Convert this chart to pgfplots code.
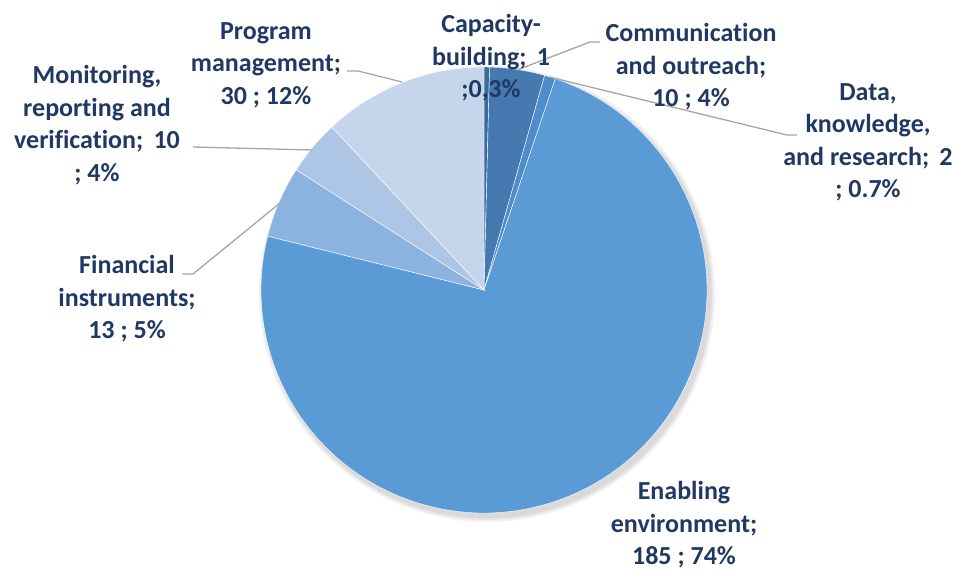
\documentclass[border=0pt]{standalone}
\usepackage{pgfplots}
\pgfplotsset{compat=1.18}
\usepackage{pgfplotstable}
\usepackage{fontspec}
\setmainfont{Carlito}[Ligatures={NoCommon}]

\definecolor{cCap}{HTML}{3A6A9E}
\definecolor{cCom}{HTML}{4679B0}
\definecolor{cDat}{HTML}{4E8DCA}
\definecolor{cEna}{HTML}{5B9BD5}
\definecolor{cFin}{HTML}{8CB2DF}
\definecolor{cMon}{HTML}{ADC6E6}
\definecolor{cPro}{HTML}{C5D6EC}
\definecolor{labtxt}{HTML}{203864}
\definecolor{leader}{HTML}{A6A6A6}

% slices clockwise from 12 o'clock
\pgfplotstableread{
value color
1   cCap
10  cCom
2   cDat
185 cEna
13  cFin
10  cMon
30  cPro
}\piedata

\begin{document}
\begin{tikzpicture}[
  lab/.style={font=\fontsize{26}{32.5}\selectfont\bfseries, text=labtxt, align=center, inner sep=0pt},
  ldr/.style={leader, line width=1.3pt},
]
\begin{axis}[
  hide axis, scale only axis, clip=false,
  width=958pt, height=570pt,
  xmin=0, xmax=958, ymin=0, ymax=570,
]
% fix the page to the axis box
\path (axis cs:0,0) rectangle (axis cs:958,570);
% soft shadow
\fill[black,opacity=0.05] (axis cs:487,276) circle[radius=228pt];
\fill[black,opacity=0.05] (axis cs:487,276) circle[radius=226pt];
\fill[black,opacity=0.05] (axis cs:487,276) circle[radius=224.5pt];

\pgfplotstablegetrowsof{\piedata}
\pgfmathtruncatemacro\nrows{\pgfplotsretval-1}
\def\total{0}
\pgfplotsforeachungrouped \i in {0,...,\nrows}{%
  \pgfplotstablegetelem{\i}{value}\of\piedata
  \pgfmathsetmacro\total{\total+\pgfplotsretval}}
\def\cum{0}
\pgfplotsforeachungrouped \i in {0,...,\nrows}{%
  \pgfplotstablegetelem{\i}{value}\of\piedata \let\sval\pgfplotsretval
  \pgfplotstablegetelem{\i}{color}\of\piedata \let\scol\pgfplotsretval
  \pgfmathsetmacro\angA{90-360*(\cum/\total)}
  \pgfmathsetmacro\cum{\cum+\sval}
  \pgfmathsetmacro\angB{90-360*(\cum/\total)}
  \edef\temp{\noexpand\fill[fill=\scol, draw=white, line width=0.4pt]
    (axis cs:484,280) -- ++(\angA:223pt)
    arc[start angle=\angA, end angle=\angB, radius=223pt] -- cycle;}
  \temp
}

% leader lines
\draw[ldr] (axis cs:517,500) -- (axis cs:590,528) -- (axis cs:600,528);
\draw[ldr] (axis cs:549,493) -- (axis cs:787,435) -- (axis cs:797,435);
\draw[ldr] (axis cs:402,488) -- (axis cs:358,499) -- (axis cs:347,499);
\draw[ldr] (axis cs:312,420) -- (axis cs:193,423);
\draw[ldr] (axis cs:280,367) -- (axis cs:193,296) -- (axis cs:182,296);

% labels
\node[lab] at (axis cs:491,512) {Capacity-\\building;~\,1\\;0,3\%};
\node[lab] at (axis cs:691,503) {Communication\\and outreach;\\10 ; 4\%};
\node[lab] at (axis cs:868,427.5) {Data,\\knowledge,\\and research;~\,2\\; 0.7\%};
\node[lab] at (axis cs:684,45) {Enabling\\environment;\\185 ; 74\%};
\node[lab] at (axis cs:127,271) {Financial\\instruments;\\13 ; 5\%};
\node[lab] at (axis cs:97,445) {Monitoring,\\reporting and\\verification;~\,10\\; 4\%};
\node[lab] at (axis cs:266,505) {Program\\management;\\30 ; 12\%};
\end{axis}
\end{tikzpicture}
\end{document}
